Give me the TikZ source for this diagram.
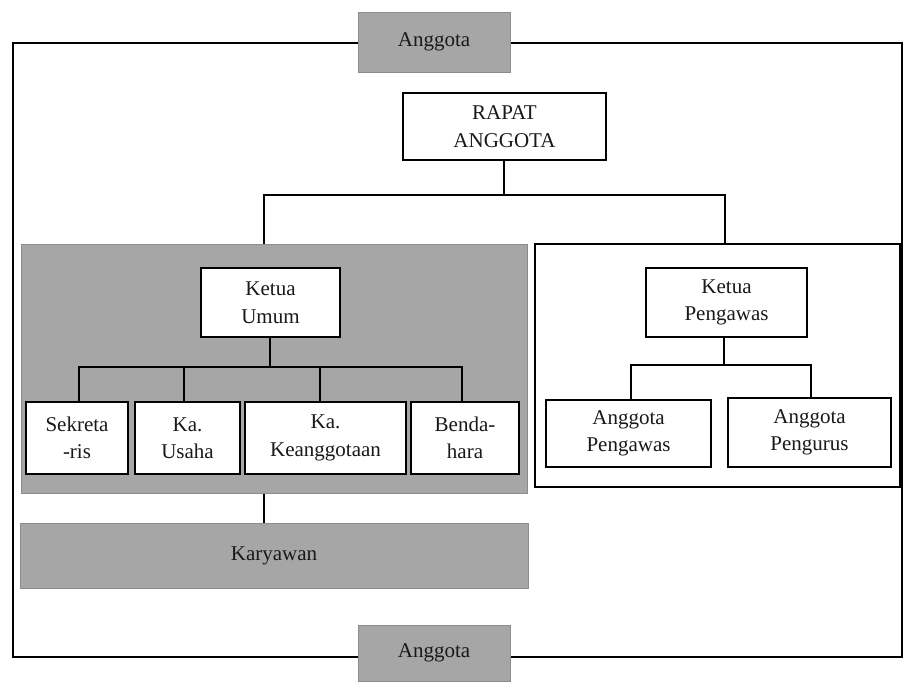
\documentclass[tikz,border=0pt]{standalone}
\usepackage{fontspec}
\setmainfont{Liberation Serif}
\begin{document}
\begin{tikzpicture}[x=1pt,y=-1pt,
  line width=1.5pt,
  txt/.style={font=\fontsize{21}{27.5}\selectfont, text=black!90, align=center, inner sep=0pt},
  wbox/.style={txt, draw=black, fill=white, line width=1.5pt, rectangle},
  gbox/.style={txt, draw=black!45, fill=black!35, line width=1pt, rectangle},
  conn/.style={draw=black, line width=1.5pt}]
\useasboundingbox (0,0) rectangle (903,681);
\fill[white] (0,0) rectangle (903,681);
% outer frame
\draw[black, line width=1.5pt] (13,43) rectangle (902,657);
% boxes
\node[gbox, minimum width=152pt, minimum height=60pt] (anggotaTop) at (434,42) {Anggota};
\node[wbox, minimum width=203pt, minimum height=67pt] (rapat) at (504.5,126.5) {RAPAT\\ANGGOTA};
\node[gbox, minimum width=506pt, minimum height=249pt] (leftPanel) at (274,368.5) {};
\node[wbox, minimum width=365pt, minimum height=243pt] (rightPanel) at (717.5,365.5) {};
\node[wbox, minimum width=139pt, minimum height=69pt] (ketuaUmum) at (270.5,302.5) {Ketua\\Umum};
\node[wbox, minimum width=102pt, minimum height=72pt] (sek) at (77,438) {Sekreta\\-ris};
\node[wbox, minimum width=105pt, minimum height=72pt] (usaha) at (187.5,438) {Ka.\\Usaha};
\node[wbox, minimum width=161pt, minimum height=72pt] (keang) at (325.5,438) {Ka.\\Keanggotaan};
\node[wbox, minimum width=108pt, minimum height=72pt] (benda) at (465,438) {Benda-\\hara};
\node[wbox, minimum width=161pt, minimum height=69pt] (ketuaPeng) at (726.5,302.5) {Ketua\\Pengawas};
\node[wbox, minimum width=165pt, minimum height=67pt] (aPengawas) at (628.5,433.5) {Anggota\\Pengawas};
\node[wbox, minimum width=163pt, minimum height=69pt] (aPengurus) at (809.5,432.5) {Anggota\\Pengurus};
\node[gbox, minimum width=508pt, minimum height=65pt] (karyawan) at (274,555.5) {Karyawan};
\node[gbox, minimum width=152pt, minimum height=56pt] (anggotaBot) at (434,653) {Anggota};
% coordinates
\coordinate (busTop) at (504,195);
\coordinate (lx) at (264,0);
\coordinate (rx) at (725,0);
\coordinate (busL) at (270,367);
\coordinate (d1) at (79,0);
\coordinate (d2) at (184,0);
\coordinate (d3) at (320,0);
\coordinate (d4) at (462,0);
\coordinate (busR) at (724,365);
\coordinate (e1) at (631,0);
\coordinate (e2) at (811,0);
% connectors
\draw[conn] (rapat.south -| busTop) -- (busTop);
\draw[conn] (leftPanel.north -| lx) |- (busTop) -| (rightPanel.north -| rx);
\draw[conn] (ketuaUmum.south -| busL) -- (busL);
\draw[conn] (sek.north -| d1) |- (busL) -| (benda.north -| d4);
\draw[conn] (usaha.north -| d2) -- (busL -| d2);
\draw[conn] (keang.north -| d3) -- (busL -| d3);
\draw[conn] (ketuaPeng.south -| busR) -- (busR);
\draw[conn] (aPengawas.north -| e1) |- (busR) -| (aPengurus.north -| e2);
\draw[conn] (leftPanel.south -| lx) -- (karyawan.north -| lx);
\end{tikzpicture}
\end{document}
